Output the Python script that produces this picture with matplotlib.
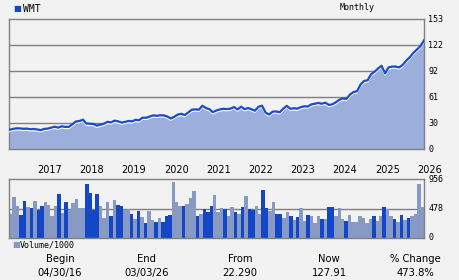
import matplotlib
matplotlib.use("Agg")
import matplotlib.pyplot as plt
import matplotlib.dates as mdates
from matplotlib.transforms import offset_copy, blended_transform_factory
import numpy as np
import pandas as pd

# WMT monthly close, 04/30/16 .. 03/03/26
price = [
    22.29, 23.6, 24.3, 24.3, 23.8, 24.0, 23.3, 23.5, 23.0,
    22.2, 23.6, 24.0, 25.1, 26.2, 25.2, 26.7, 26.0, 26.0, 29.1, 32.4, 32.9,
    34.5, 30.0, 29.7, 29.5, 27.5, 28.6, 29.7, 32.0, 31.3, 33.4, 32.6, 31.1,
    31.9, 33.0, 32.5, 34.3, 33.8, 36.8, 36.8, 38.1, 39.6, 39.1, 39.7, 39.6,
    38.2, 35.9, 37.9, 40.5, 41.4, 39.9, 43.1, 46.3, 46.6, 46.3, 50.9, 48.1,
    46.8, 43.3, 45.3, 46.6, 47.3, 47.0, 47.5, 49.4, 46.5, 49.8, 46.9, 48.2,
    46.6, 45.1, 49.6, 51.0, 42.9, 40.5, 44.0, 44.2, 43.2, 47.4, 50.8, 47.3,
    48.0, 47.4, 49.2, 50.3, 50.0, 52.4, 53.3, 54.2, 53.3, 54.5, 51.9, 52.6,
    55.1, 58.0, 59.5, 59.0, 64.0, 67.0, 68.0, 76.0, 80.0, 81.0, 88.0, 91.0,
    95.0, 98.0, 89.0, 96.0, 97.0, 97.0, 96.0, 99.0, 104.0, 108.0, 113.0, 117.0,
    121.0, 127.0, 127.91,
]
dates = list(pd.date_range("2016-04-30", periods=119, freq="ME")) + [pd.Timestamp("2026-03-03")]

# volume / 1000 and whether the bar is drawn dark
volume = [
    389, 664, 518, 373, 600, 502, 486, 600, 459, 518, 583, 535, 356, 518, 713, 405,
    583, 459, 567, 632, 486, 486, 875, 729, 459, 713, 518, 324, 583, 356, 616, 535,
    518, 454, 470, 389, 308, 437, 340, 243, 437, 292, 259, 324, 259, 356, 373, 907,
    583, 518, 518, 551, 648, 761, 356, 389, 470, 421, 518, 697, 421, 486, 470, 356,
    502, 421, 389, 502, 680, 470, 454, 518, 389, 778, 486, 437, 583, 389, 389, 324,
    421, 356, 292, 340, 486, 275, 373, 356, 243, 356, 308, 308, 502, 502, 356, 486,
    308, 275, 373, 259, 259, 356, 324, 243, 308, 356, 275, 356, 502, 470, 356, 308,
    259, 373, 292, 324, 356, 389, 875, 502,
]
dark = [
    0, 0, 0, 1, 1, 0, 1, 0, 1, 1, 0, 0, 0, 0, 1, 0, 1, 0, 0, 0, 0, 0, 1, 1, 1, 1, 0, 0, 0, 1,
    0, 1, 1, 0, 0, 1, 0, 1, 0, 1, 0, 0, 1, 0, 1, 1, 1, 0, 0, 0, 1, 0, 0, 0, 1, 0, 1, 1, 1, 0,
    0, 0, 1, 0, 0, 1, 0, 1, 0, 1, 1, 0, 0, 1, 1, 0, 0, 1, 1, 0, 0, 1, 0, 1, 0, 0, 1, 0, 0, 0,
    1, 0, 1, 1, 0, 0, 0, 1, 0, 0, 0, 0, 0, 0, 0, 1, 0, 0, 1, 0, 0, 1, 0, 1, 0, 1, 0, 0, 0, 0,
]
years = list(range(2017, 2027))
price_ticks = [0, 30.6, 61.2, 91.8, 122.4, 153]
price_labels = ["0", "30", "61", "92", "122", "153"]
vol_ticks = [0, 478, 956]
summary = [("Begin", "04/30/16"), ("End", "03/03/26"), ("From", "22.290"),
           ("Now", "127.91"), ("% Change", "473.8%")]

BG = "#f2f2f2"
GRID = "#808080"
LINE = "#1a4ccc"
FILL = "#9cafdc"
DARK = "#1446c8"
LIGHT = "#8899c4"
MONO = "DejaVu Sans Mono"

W, H = 460, 280
fig = plt.figure(figsize=(W / 100, H / 100), dpi=100, facecolor=BG)

def px_axes(x0, y0, x1, y1):
    return fig.add_axes([x0 / W, 1 - y1 / H, (x1 - x0) / W, (y1 - y0) / H])

# ---- price panel
ax = px_axes(9, 19, 424, 149)
ax.set_facecolor(BG)
ax.fill_between(dates, price, 0, color=FILL, lw=0, zorder=2)
ax.plot(dates, price, color="white", lw=1,
        transform=offset_copy(ax.transData, fig, y=-1.6, units="dots"), zorder=3)
ax.plot(dates, price, color=LINE, lw=1.6, zorder=4)
ax.set_xlim(dates[0], dates[-1])
ax.set_ylim(0, 153)
for t in price_ticks[1:-1]:
    ax.axhline(t, color=GRID, lw=1, zorder=1)
for s in ax.spines.values():
    s.set_color(GRID)
    s.set_linewidth(1)
ax.set_xticks([])
ax.set_yticks([])
tr = blended_transform_factory(ax.transAxes, ax.transData)
for t, lab in zip(price_ticks, price_labels):
    ax.text(1.01, t, lab, transform=tr, ha="left", va="center",
            fontsize=6, family=MONO, color="black")
ty = blended_transform_factory(ax.transData, ax.transAxes)
for y in years:
    ax.text(mdates.date2num(pd.Timestamp(f"{y}-01-01")), -0.16, str(y), transform=ty,
            ha="left", va="center", fontsize=7, color="black", clip_on=False)

# ---- volume panel
vx = px_axes(9, 179, 424, 238)
vx.set_facecolor(BG)
idx = np.arange(len(volume))
vx.bar(idx, volume, width=1.0, align="edge",
       color=[DARK if d else LIGHT for d in dark], lw=0, zorder=2)
vx.set_xlim(0, len(volume))
vx.set_ylim(0, 956)
vx.axhline(478, color=GRID, lw=1, zorder=1)
for s in vx.spines.values():
    s.set_color(GRID)
    s.set_linewidth(1)
vx.set_xticks([])
vx.set_yticks([])
tv = blended_transform_factory(vx.transAxes, vx.transData)
for t in vol_ticks:
    vx.text(1.01, t, str(t), transform=tv, ha="left", va="center",
            fontsize=6, family=MONO, color="black")

# ---- header and legend
fig.text(13 / W, 1 - 9 / H, "\u25a0", color=DARK, fontsize=6, va="center", ha="left")
fig.text(23 / W, 1 - 9 / H, "WMT", family=MONO, fontsize=7, va="center", ha="left")
fig.text(357 / W, 1 - 8 / H, "Monthly", family=MONO, fontsize=6, va="center", ha="center")
fig.text(12 / W, 1 - 245 / H, "\u25a0", color=LIGHT, fontsize=6, va="center", ha="left")
fig.text(20 / W, 1 - 245 / H, "Volume/1000", family=MONO, fontsize=6, va="center", ha="left")

# ---- summary row
cols = [60, 147, 240, 329, 415]
for cx, (head, val) in zip(cols, summary):
    fig.text(cx / W, 1 - 259 / H, head, fontsize=7.2, ha="center", va="center")
    fig.text(cx / W, 1 - 273 / H, val, fontsize=7.2, ha="center", va="center")

fig.savefig("out.png", dpi=100, facecolor=BG)
